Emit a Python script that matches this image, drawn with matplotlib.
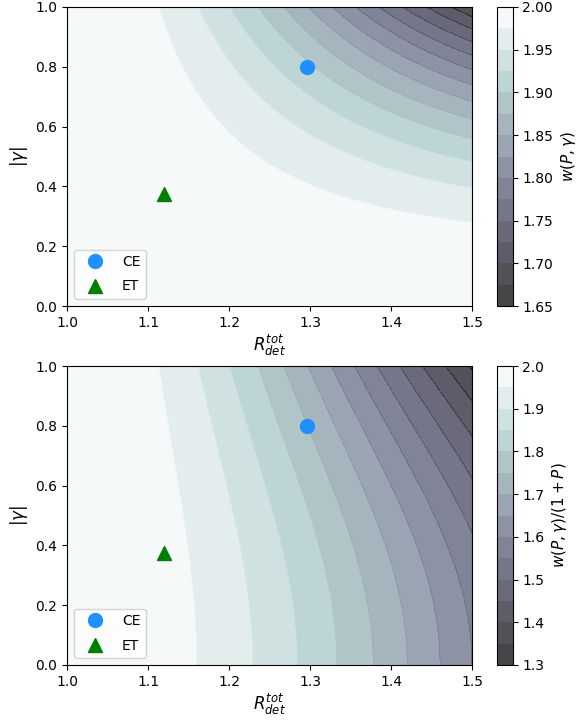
import numpy as np
import matplotlib
matplotlib.use("Agg")
import matplotlib.pyplot as plt

# axis ranges
R_min, R_max = 1.0, 1.5
gamma_min, gamma_max = 0.0, 1.0

# contour levels
levels_top = np.linspace(1.65, 2.0, 15)
levels_bot = np.linspace(1.3, 2.0, 15)
cbar_ticks_top = [1.65, 1.70, 1.75, 1.80, 1.85, 1.90, 1.95, 2.00]
cbar_ticks_bot = [1.3, 1.4, 1.5, 1.6, 1.7, 1.8, 1.9, 2.0]

# detector points
det_names = ["CE", "ET"]
det_R = [1.296, 1.12]
det_gamma = [0.80, 0.373]
det_colors = ["dodgerblue", "green"]
det_markers = ["o", "^"]

R = np.linspace(R_min, R_max, 400)
G = np.linspace(gamma_min, gamma_max, 400)
RR, GG = np.meshgrid(R, G)
P = (RR - 1.0) ** 2
W = 2.0 - 2.0 * GG ** 2 * P / (1.0 + P) ** 2
W_norm = W / (1.0 + P)

fig = plt.figure(figsize=(5.79, 7.21), dpi=100)
W_px, H_px = 579.0, 721.0

def ax_rect(x0, y0, x1, y1):
    return [x0 / W_px, 1 - y1 / H_px, (x1 - x0) / W_px, (y1 - y0) / H_px]

panels = [
    (W, levels_top, cbar_ticks_top, r"$w(P,\gamma)$", 7, 306, "%.2f"),
    (W_norm, levels_bot, cbar_ticks_bot, r"$w(P,\gamma)/(1+P)$", 366, 665, "%.1f"),
]

for Z, lev, cticks, clabel, ytop, ybot, fmt in panels:
    ax = fig.add_axes(ax_rect(67, ytop, 472, ybot))
    cax = fig.add_axes(ax_rect(497, ytop, 512.5, ybot))
    cs = ax.contourf(RR, GG, Z, levels=lev, cmap="bone", alpha=0.75)
    for name, r, g, c, m in zip(det_names, det_R, det_gamma, det_colors, det_markers):
        ax.plot(r, g, linestyle="none", marker=m, color=c, markersize=10, label=name)
    ax.set_xlim(R_min, R_max)
    ax.set_ylim(gamma_min, gamma_max)
    ax.set_xticks([1.0, 1.1, 1.2, 1.3, 1.4, 1.5])
    ax.set_yticks([0.0, 0.2, 0.4, 0.6, 0.8, 1.0])
    ax.set_xlabel(r"$R_{det}^{tot}$", fontsize=12, labelpad=2)
    ax.set_ylabel(r"$|\gamma|$", fontsize=12)
    ax.legend(loc="lower left", handlelength=2.25, labelspacing=0.75)
    cb = fig.colorbar(cs, cax=cax, ticks=cticks, format=fmt)
    cb.set_label(clabel, fontsize=11)

fig.savefig("out.png", dpi=100)
